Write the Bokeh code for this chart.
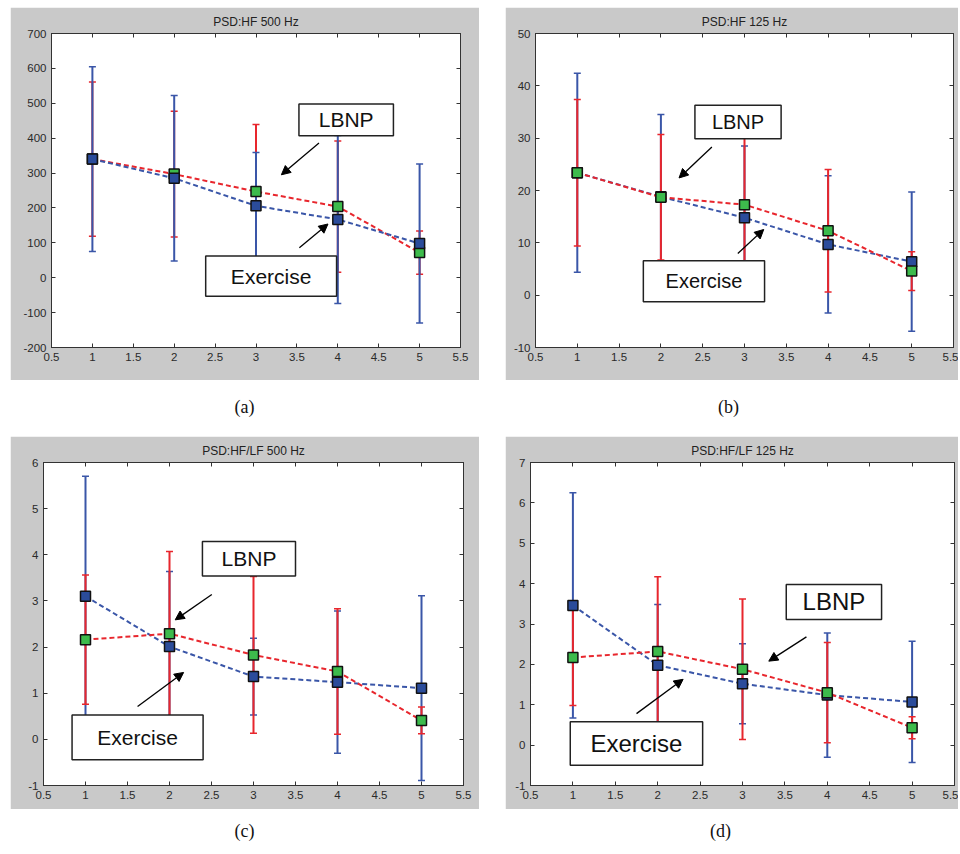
from bokeh.plotting import figure
from bokeh.models import (Range1d, FixedTicker, LinearAxis, CustomJSTickFormatter, Whisker,
                          TeeHead, ColumnDataSource, BoxAnnotation, Label, Arrow, NormalHead,
                          Div, Spacer, CustomLabelingPolicy)
from bokeh.layouts import row, column
from bokeh.embed import file_html
from bokeh.resources import INLINE

# ---------------- data ----------------
stages = [1, 2, 3, 4, 5]
x_ticks = [0.5, 1, 1.5, 2, 2.5, 3, 3.5, 4, 4.5, 5, 5.5]

# (a) PSD:HF 500 Hz
lbnp_a_mean = [340, 297, 247, 204, 72]
lbnp_a_err = [221, 180, 192, 188, 62]
exer_a_mean = [340, 285, 206, 167, 98]
exer_a_err = [265, 237, 153, 241, 228]
yticks_a = [-200, -100, 0, 100, 200, 300, 400, 500, 600, 700]

# (b) PSD:HF 125 Hz
lbnp_b_mean = [23.4, 18.7, 17.3, 12.3, 4.6]
lbnp_b_err = [14.0, 12.0, 13.0, 11.7, 3.7]
exer_b_mean = [23.4, 18.8, 14.8, 9.7, 6.4]
exer_b_err = [19.0, 15.7, 13.7, 13.1, 13.3]
yticks_b = [-10, 0, 10, 20, 30, 40, 50]

# (c) PSD:HF/LF 500 Hz
lbnp_c_mean = [2.16, 2.29, 1.83, 1.47, 0.41]
lbnp_c_err = [1.40, 1.78, 1.70, 1.36, 0.29]
exer_c_mean = [3.10, 2.01, 1.36, 1.24, 1.11]
exer_c_err = [2.60, 1.63, 0.83, 1.54, 2.00]
yticks_c = [-1, 0, 1, 2, 3, 4, 5, 6]

# (d) PSD:HF/LF 125 Hz
lbnp_d_mean = [2.17, 2.32, 1.88, 1.30, 0.43]
lbnp_d_err = [1.19, 1.85, 1.74, 1.24, 0.27]
exer_d_mean = [3.46, 1.98, 1.52, 1.24, 1.07]
exer_d_err = [2.79, 1.50, 0.99, 1.54, 1.50]
yticks_d = [-1, 0, 1, 2, 3, 4, 5, 6, 7]

titles = ["PSD:HF 500 Hz", "PSD:HF 125 Hz", "PSD:HF/LF 500 Hz", "PSD:HF/LF 125 Hz"]
captions = ["(a)", "(b)", "(c)", "(d)"]

# ---------------- styles ----------------
GRAY = "#c9c9c9"
RED = "#e8262d"
BLUE_LINE = "#3a56a8"
BLUE_MK = "#2b4c9b"
GREEN = "#3dbb4c"
AX = "#333333"

# annotation placement (data coords): box (l, r, b, t), arrow (xs, ys, xe, ye), font size
ann_a = dict(lbnp_box=(3.525, 4.68, 407, 498), lbnp_arrow=(3.77, 386, 3.31, 295),
             exer_box=(2.385, 3.985, -53, 62), exer_arrow=(3.53, 86, 3.88, 154), fs="21px")
ann_b = dict(lbnp_box=(2.407, 3.438, 29.9, 36.3), lbnp_arrow=(2.61, 28.3, 2.217, 22.4),
             exer_box=(1.79, 3.24, -1.27, 6.56), exer_arrow=(2.92, 7.96, 3.23, 12.55), fs="20px")
ann_c = dict(lbnp_box=(2.392, 3.5, 3.54, 4.29), lbnp_arrow=(2.504, 3.14, 2.068, 2.59),
             exer_box=(0.84, 2.4, -0.44, 0.53), exer_arrow=(1.62, 0.71, 2.168, 1.45), fs="21px")
ann_d = dict(lbnp_box=(3.516, 4.64, 3.11, 3.98), lbnp_arrow=(3.754, 2.68, 3.31, 2.08),
             exer_box=(0.969, 2.53, -0.50, 0.58), exer_arrow=(1.75, 0.78, 2.30, 1.63), fs="24px")

FMT = CustomJSTickFormatter(code="return String(+tick.toFixed(3));")


def style_axis(ax, ticks, labels=True):
    ax.ticker = FixedTicker(ticks=ticks)
    ax.major_tick_in = 4
    ax.major_tick_out = 0
    ax.minor_tick_line_color = None
    ax.axis_line_color = AX
    ax.major_tick_line_color = AX
    if labels:
        ax.formatter = FMT
        ax.major_label_text_font = "Liberation Sans"
        ax.major_label_text_font_size = "11.5px"
        ax.major_label_text_color = "#2a2a2a"
    else:
        # mirrored MATLAB-style box ticks: no labels drawn
        ax.major_label_policy = CustomLabelingPolicy(code="return []")
        ax.major_label_text_font_size = "1px"
        ax.major_label_standoff = 0


def add_series(p, mean, err, line_color, mk_color):
    src = ColumnDataSource(dict(x=stages, m=mean,
                                lo=[m - e for m, e in zip(mean, err)],
                                hi=[m + e for m, e in zip(mean, err)]))
    w = Whisker(base="x", lower="lo", upper="hi", source=src, level="underlay",
                line_color=line_color, line_width=2,
                upper_head=TeeHead(size=7, line_color=line_color, line_width=1.5),
                lower_head=TeeHead(size=7, line_color=line_color, line_width=1.5))
    p.add_layout(w)
    p.line("x", "m", source=src, line_color=line_color, line_width=2, line_dash="5 3")
    p.scatter("x", "m", source=src, marker="square", size=10, fill_color=mk_color,
              line_color="#111111", line_width=1.5)


def add_box(p, box, text, fs):
    l, r, b, t = box
    p.add_layout(BoxAnnotation(left=l, right=r, bottom=b, top=t, fill_color="white",
                               fill_alpha=1.0, line_color="#222222", line_width=1.5,
                               line_alpha=1.0))
    p.add_layout(Label(x=(l + r) / 2, y=(b + t) / 2, text=text, text_align="center",
                       text_baseline="middle", text_font="Liberation Sans",
                       text_font_size=fs, text_color="#111111"))


def add_arrow(p, a):
    xs, ys, xe, ye = a
    p.add_layout(Arrow(end=NormalHead(size=9, fill_color="black", line_color="black"),
                       x_start=xs, y_start=ys, x_end=xe, y_end=ye,
                       line_color="black", line_width=1.3))


def make_panel(title, lm, le, em, ee, yticks, size, borders, lbnp_first, ann):
    w, h = size
    bl, br, bt, bb = borders
    p = figure(width=w, height=h, x_range=Range1d(0.5, 5.5),
               y_range=Range1d(yticks[0], yticks[-1]),
               output_backend="svg", toolbar_location=None,
               min_border_left=bl, min_border_right=br, min_border_top=bt,
               min_border_bottom=bb, border_fill_color=GRAY,
               background_fill_color="white", outline_line_color=AX,
               outline_line_width=1)
    p.grid.visible = False
    style_axis(p.xaxis[0], x_ticks)
    style_axis(p.yaxis[0], yticks)
    ax_top = LinearAxis()
    ax_right = LinearAxis()
    style_axis(ax_top, x_ticks, labels=False)
    style_axis(ax_right, yticks, labels=False)
    p.add_layout(ax_top, "above")
    p.add_layout(ax_right, "right")
    p.title.text = title
    p.title.align = "center"
    p.title.text_font = "Liberation Sans"
    p.title.text_font_size = "12px"
    p.title.text_font_style = "normal"
    p.title.text_color = "#222222"
    p.title.standoff = 2

    if lbnp_first:
        add_series(p, lm, le, RED, GREEN)
        add_series(p, em, ee, BLUE_LINE, BLUE_MK)
    else:
        add_series(p, em, ee, BLUE_LINE, BLUE_MK)
        add_series(p, lm, le, RED, GREEN)

    add_box(p, ann["lbnp_box"], "LBNP", ann["fs"])
    add_arrow(p, ann["lbnp_arrow"])
    add_box(p, ann["exer_box"], "Exercise", ann["fs"])
    add_arrow(p, ann["exer_arrow"])
    return p


pa = make_panel(titles[0], lbnp_a_mean, lbnp_a_err, exer_a_mean, exer_a_err, yticks_a,
                (469, 373), (41, 19, 26, 28), True, ann_a)
pb = make_panel(titles[1], lbnp_b_mean, lbnp_b_err, exer_b_mean, exer_b_err, yticks_b,
                (453, 373), (30, 3, 26, 33), False, ann_b)
pc = make_panel(titles[2], lbnp_c_mean, lbnp_c_err, exer_c_mean, exer_c_err, yticks_c,
                (469, 373), (33, 16, 26, 24), False, ann_c)
pd = make_panel(titles[3], lbnp_d_mean, lbnp_d_err, exer_d_mean, exer_d_err, yticks_d,
                (453, 373), (25, 3, 24, 20), False, ann_d)


def caption(text, w, h, pad_top, shift=0):
    return Div(text=("<div style=\"width:%dpx;text-align:center;"
                     "font-family:'Liberation Serif',serif;"
                     "font-size:18px;line-height:20px;color:#111;padding-top:%dpx;\">"
                     "%s</div>") % (w + 2 * shift, pad_top, text),
               width=w, height=h, margin=0)


layout = column(
    Spacer(width=10, height=7, margin=0),
    row(Spacer(width=10, height=373, margin=0), pa, Spacer(width=26, height=373, margin=0), pb),
    row(Spacer(width=10, height=56, margin=0), caption(captions[0], 469, 56, 17),
        Spacer(width=26, height=56, margin=0), caption(captions[1], 453, 56, 17, -3)),
    row(Spacer(width=10, height=373, margin=0), pc, Spacer(width=26, height=373, margin=0), pd),
    row(Spacer(width=10, height=36, margin=0), caption(captions[2], 469, 36, 12),
        Spacer(width=26, height=36, margin=0), caption(captions[3], 453, 36, 12, -11)),
)

open("out.html", "w").write(file_html(layout, INLINE))
